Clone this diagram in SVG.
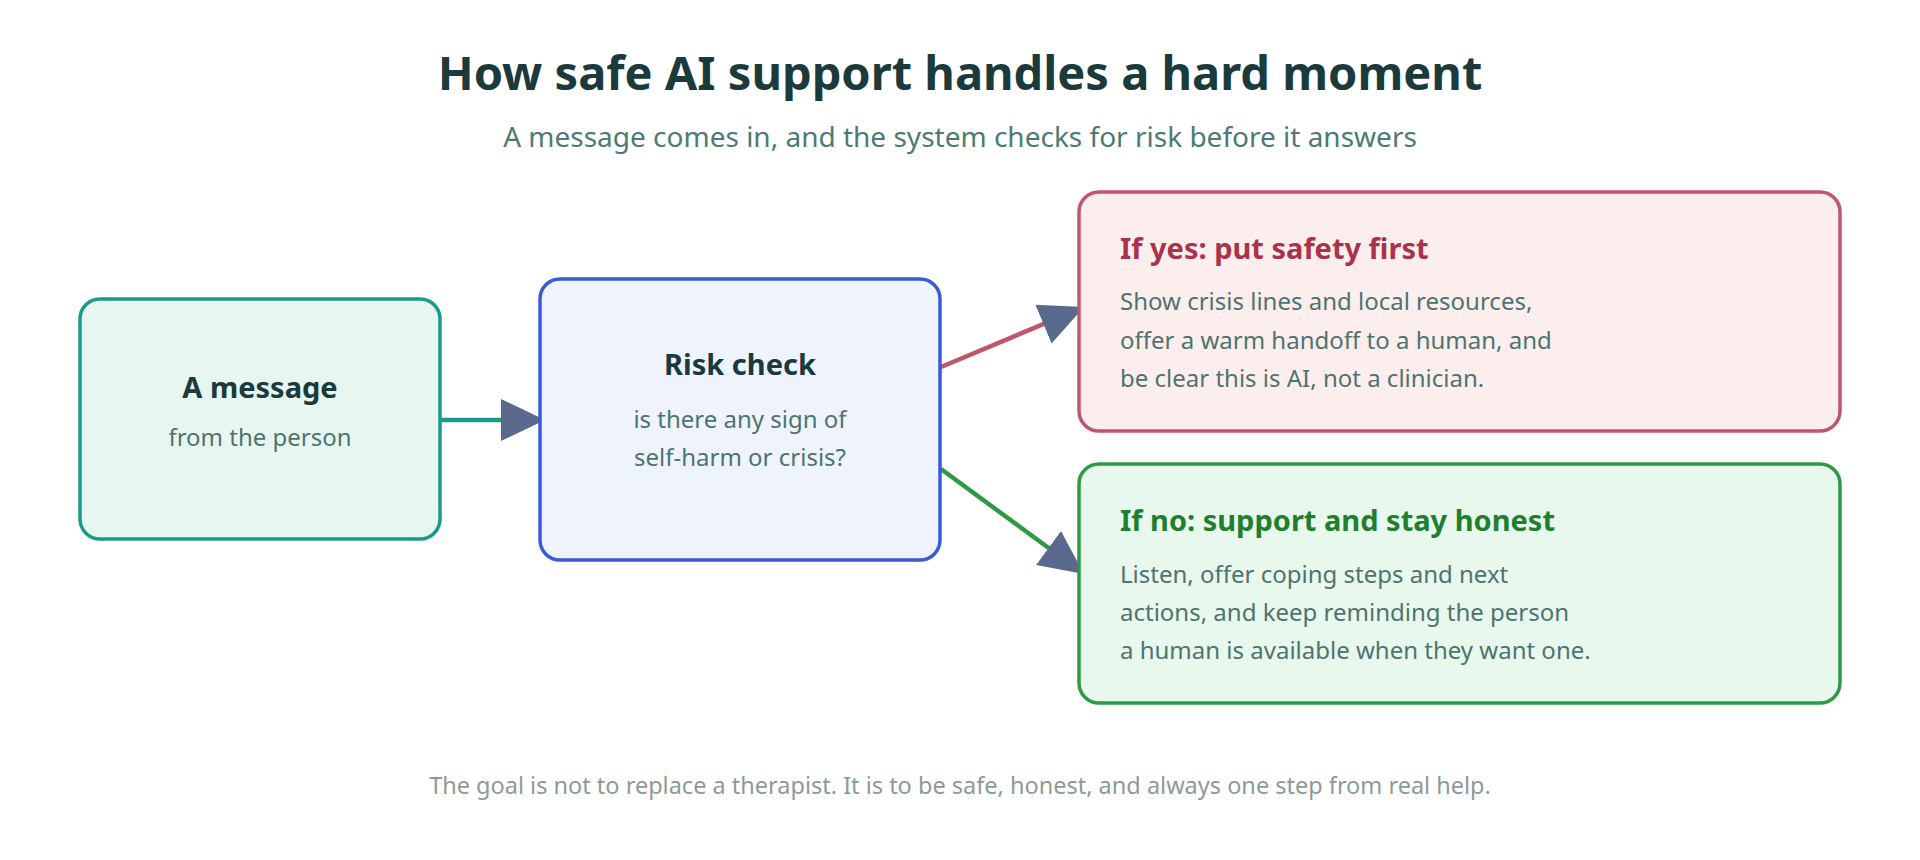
<svg xmlns="http://www.w3.org/2000/svg" width="1920" height="860" viewBox="0 0 1920 860">
<style>
text{font-family:"Noto Sans","Open Sans","Liberation Sans",sans-serif}
.t{font-size:47px;font-weight:700;fill:#1b3a3c}
.s{font-size:28px;fill:#4d7a74}
.h{font-size:29px;font-weight:700;fill:#1b3a3c}
.b{font-size:24px;fill:#4d7470}
.f{font-size:23.5px;fill:#8c9a99}
.n{stroke-width:3.5}
.c{fill:none;stroke-width:4.5}
</style>
<defs>
<marker id="ah" markerUnits="userSpaceOnUse" markerWidth="46" markerHeight="46" viewBox="0 0 46 46" refX="44" refY="23" orient="auto">
<path d="M0,2 L44,23 L0,44 z" fill="#5a6a8c"/>
</marker>
</defs>
<rect width="1920" height="860" fill="#fff"/>
<text class="t" x="960" y="90" text-anchor="middle">How safe AI support handles a hard moment</text>
<text class="s" x="960" y="147" text-anchor="middle">A message comes in, and the system checks for risk before it answers</text>
<g id="connectors">
<line class="c" x1="441" y1="420" x2="545" y2="420" stroke="#1a9a8a" marker-end="url(#ah)"/>
<line class="c" x1="941" y1="367" x2="1084" y2="307" stroke="#c0566a" marker-end="url(#ah)"/>
<line class="c" x1="941" y1="469" x2="1084" y2="574" stroke="#2e9a45" marker-end="url(#ah)"/>
</g>
<g id="message">
<rect class="n" x="80" y="299" width="360" height="240" rx="20" fill="#e8f6f1" stroke="#1a9a8a"/>
<text class="h" x="260" y="398" text-anchor="middle">A message</text>
<text class="b" x="260" y="446" text-anchor="middle">from the person</text>
</g>
<g id="risk">
<rect class="n" x="540" y="279" width="400" height="281" rx="20" fill="#eef3fe" stroke="#3b5bd6"/>
<text class="h" x="740" y="375" text-anchor="middle">Risk check</text>
<text class="b" x="740" y="428" text-anchor="middle">is there any sign of</text>
<text class="b" x="740" y="466" text-anchor="middle">self-harm or crisis?</text>
</g>
<g id="yes">
<rect class="n" x="1079" y="192" width="761" height="239" rx="20" fill="#fdeeee" stroke="#c0566a"/>
<text class="h" x="1120" y="259" style="fill:#a8334a">If yes: put safety first</text>
<text class="b" x="1120" y="310">Show crisis lines and local resources,</text>
<text class="b" x="1120" y="349">offer a warm handoff to a human, and</text>
<text class="b" x="1120" y="387">be clear this is AI, not a clinician.</text>
</g>
<g id="no">
<rect class="n" x="1079" y="464" width="761" height="239" rx="20" fill="#e8f8ec" stroke="#2e9a45"/>
<text class="h" x="1120" y="531" style="fill:#1f7f2e">If no: support and stay honest</text>
<text class="b" x="1120" y="583">Listen, offer coping steps and next</text>
<text class="b" x="1120" y="621">actions, and keep reminding the person</text>
<text class="b" x="1120" y="659">a human is available when they want one.</text>
</g>
<text class="f" x="960" y="794" text-anchor="middle">The goal is not to replace a therapist. It is to be safe, honest, and always one step from real help.</text>
</svg>
